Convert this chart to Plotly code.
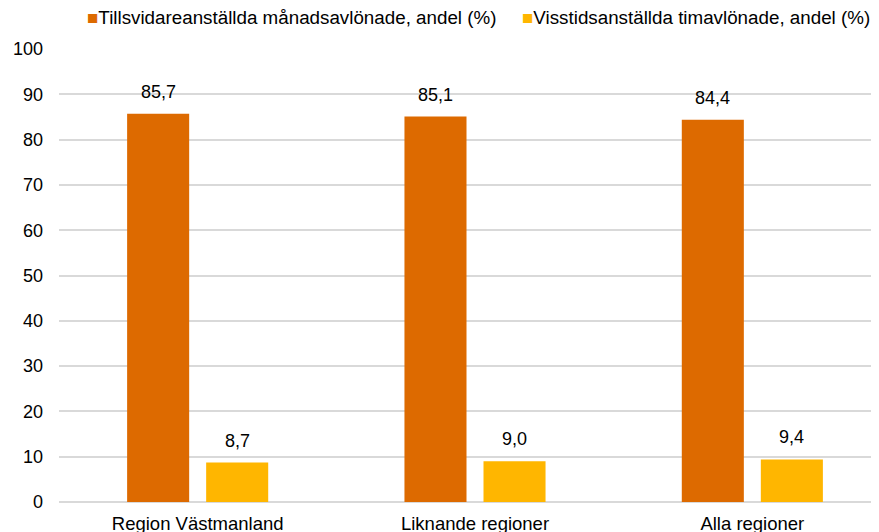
import plotly.graph_objects as go

categories = ["Region Västmanland", "Liknande regioner", "Alla regioner"]
series_names = ["Tillsvidareanställda månadsavlönade, andel (%)",
                "Visstidsanställda timavlönade, andel (%)"]
tillsvidare = [85.7, 85.1, 84.4]
visstid = [8.7, 9.0, 9.4]
colors = ["#DD6A00", "#FFB600"]
y_ticks = list(range(0, 101, 10))

font = "Liberation Sans, Arial, sans-serif"
FS = 18

fig = go.Figure()
for name, vals, col in zip(series_names, [tillsvidare, visstid], colors):
    fig.add_trace(go.Bar(
        x=categories, y=vals, name=name, marker_color=col,
        marker_line_width=0, showlegend=False,
    ))

# value labels above bars
slot_px = 79
for i, vals in enumerate([tillsvidare, visstid]):
    shift = -slot_px / 2 if i == 0 else slot_px / 2
    for c, v in zip(categories, vals):
        fig.add_annotation(
            x=c, y=v, text=f"{v:.1f}".replace(".", ","),
            showarrow=False, xshift=shift, yshift=10, yanchor="bottom",
            font=dict(family=font, size=FS, color="#000000"),
        )

# legend drawn as text with coloured squares
legend_x = [0.031, 0.554]
for name, col, lx in zip(series_names, colors, legend_x):
    fig.add_annotation(
        xref="paper", yref="paper", x=lx, y=1, xanchor="left", yanchor="middle",
        yshift=32, showarrow=False,
        text=f"<span style='color:{col}'>■</span>{name}",
        font=dict(family=font, size=18.8, color="#000000"),
    )

# page body has an 8px default margin; the plot area of the reference runs
# past the right edge of the window, so the figure does too
fig.update_layout(
    width=883, height=524,
    margin=dict(l=51, r=0, t=41, b=30, autoexpand=False),
    paper_bgcolor="white", plot_bgcolor="white",
    barmode="group", bargap=0.43, bargroupgap=0.215,
    separators=", ",
    font=dict(family=font, size=FS, color="#000000"),
    showlegend=False,
)
fig.update_xaxes(showgrid=False, showline=False, ticks="", tickfont=dict(size=18.5),
                 ticklabelstandoff=8, automargin=False)
fig.update_yaxes(range=[0, 100], tickvals=y_ticks, showgrid=True, gridcolor="#D9D9D9",
                 gridwidth=2, zeroline=True, zerolinecolor="#D9D9D9", zerolinewidth=2,
                 showline=False, ticks="", ticklabelstandoff=15, tickfont=dict(size=FS),
                 automargin=False)

fig.write_html("out.html")
